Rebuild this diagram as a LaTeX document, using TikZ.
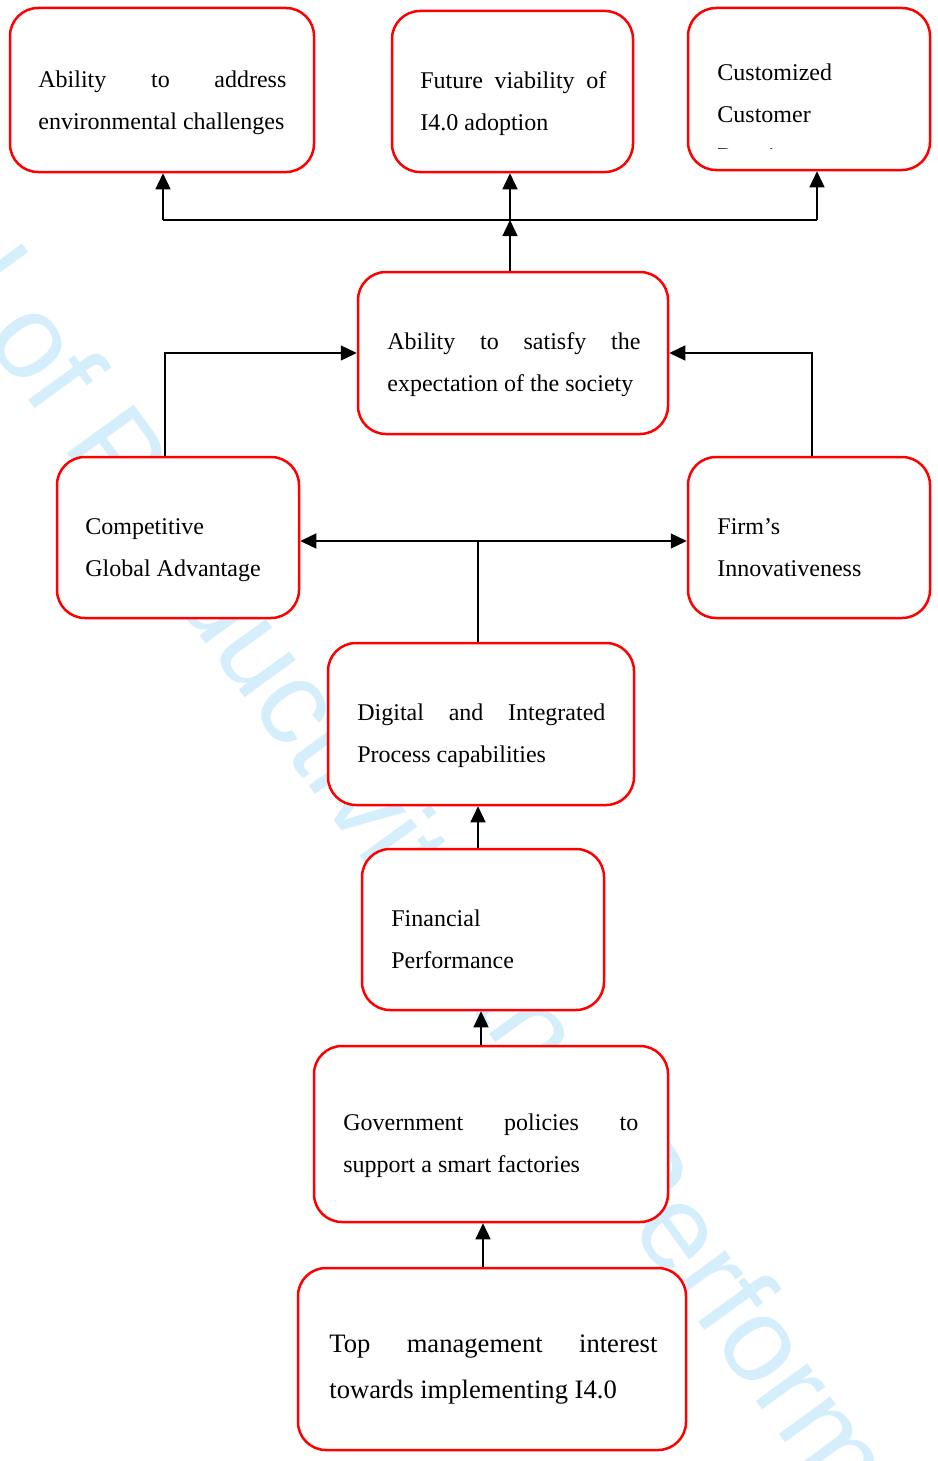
\documentclass[tikz,border=0pt]{standalone}
\usepackage{fontspec}
\setmainfont{Liberation Serif}
\newfontfamily\wmfont{Liberation Sans}
\usetikzlibrary{arrows.meta}
\setlength{\parindent}{0pt}
\definecolor{boxred}{RGB}{255,0,0}
\definecolor{wmblue}{RGB}{212,238,251}
\tikzset{
  card/.style={draw=boxred, line width=1.25pt, rounded corners=14pt, fill=white, inner sep=0pt},
  txt/.style={inner sep=0pt, anchor=north west, align=justify, font=\fontsize{12pt}{21pt}\selectfont},
  arr/.style={line width=0.65pt, -{Triangle[length=8pt,width=7.5pt]}},
  wire/.style={line width=0.65pt},
  wmark/.style={text=wmblue, inner sep=0pt, font=\wmfont\fontsize{60pt}{72pt}\selectfont}
}

\begin{document}
\begin{tikzpicture}[x=0.5pt,y=-0.5pt]
  \useasboundingbox (0,0) rectangle (937,1461);
  \begin{scope}
    \clip (0,0) rectangle (937,1461);
    \node[wmark, rotate=-54, anchor=base west] (wm) at (-17,337)
      {\llap{International Journal }of Productivity and Performance Management};
  \end{scope}

  \node[card, minimum width=152pt, minimum height=82pt] (envbox) at (162,90) {};
  \node[card, minimum width=120.5pt, minimum height=80.5pt] (futbox) at (512.5,91.5) {};
  \node[card, minimum width=121pt, minimum height=81pt] (cusbox) at (809,89) {};
  \node[card, minimum width=155pt, minimum height=81pt] (socbox) at (513,353) {};
  \node[card, minimum width=121pt, minimum height=80.5pt] (cgabox) at (178,537.5) {};
  \node[card, minimum width=121pt, minimum height=80.5pt] (innbox) at (809,537.5) {};
  \node[card, minimum width=153pt, minimum height=81pt] (digbox) at (481,724) {};
  \node[card, minimum width=121pt, minimum height=80.5pt] (finbox) at (483,929.5) {};
  \node[card, minimum width=177pt, minimum height=88pt] (govbox) at (491,1134) {};
  \node[card, minimum width=194pt, minimum height=91pt] (topbox) at (492,1359) {};

  \node[txt, text width=124pt] (envtxt) at (38,57.6)
    {\strut Ability to address\linebreak environmental challenges};
  \node[txt, text width=93pt] (futtxt) at (420,58.6)
    {\strut Future viability of\linebreak I4.0 adoption};
  \begin{scope}
    \clip (688,8) rectangle (930,148);
    \node[txt, align=left] (custxt) at (717,50.6)
      {\strut Customized\\Customer\\Requirements};
  \end{scope}
  \node[txt, text width=126.5pt] (soctxt) at (387,319.6)
    {\strut Ability to satisfy the\linebreak expectation of the society};
  \node[txt, align=left] (cgatxt) at (85,504.6)
    {\strut Competitive\\Global Advantage};
  \node[txt, align=left] (inntxt) at (717,504.6)
    {\strut Firm’s\\Innovativeness};
  \node[txt, text width=124pt] (digtxt) at (357,690.6)
    {\strut Digital and Integrated\linebreak Process capabilities};
  \node[txt, align=left] (fintxt) at (391,896.6)
    {\strut Financial\\Performance};
  \node[txt, text width=147.5pt] (govtxt) at (343,1100.6)
    {\strut Government policies to\linebreak support a smart factories};
  \node[txt, text width=164pt, font=\fontsize{13.3pt}{23pt}\selectfont] (toptxt) at (329,1319.8)
    {\strut Top management interest\linebreak towards implementing I4.0};

  \coordinate (busL) at (163,220);
  \coordinate (busM) at (510,220);
  \coordinate (busR) at (817,220);
  \draw[wire] (busL) -- (busR);
  \draw[arr] (busL) -- (busL |- envbox.south);
  \draw[arr] (busM) -- (busM |- futbox.south);
  \draw[arr] (busR) -- (busR |- cusbox.south);
  \draw[arr] (socbox.north -| busM) -- (busM);

  \draw[arr] ([xshift=-6.5pt]cgabox.north) |- (socbox.west);
  \draw[arr] ([xshift=1.5pt]innbox.north) |- (socbox.east);

  \coordinate (split) at (478,541);
  \draw[wire] (split |- digbox.north) -- (split);
  \draw[arr] (split) -- (split -| cgabox.east);
  \draw[arr] (split) -- (split -| innbox.west);

  \draw[arr] (finbox.north -| split) -- (digbox.south -| split);
  \draw[arr] ([xshift=-5pt]govbox.north) -- ([xshift=-5pt]govbox.north |- finbox.south);
  \draw[arr] ([xshift=-4.5pt]topbox.north) -- ([xshift=-4.5pt]topbox.north |- govbox.south);
\end{tikzpicture}
\end{document}
